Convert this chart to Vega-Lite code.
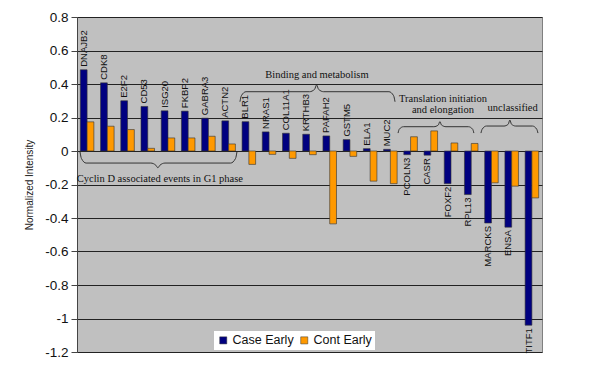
{
  "$schema": "https://vega.github.io/schema/vega-lite/v6.json",
  "width": 465,
  "height": 335,
  "autosize": {"type": "none"},
  "padding": {"left": 77, "top": 17, "right": 57, "bottom": 17},
  "background": "white",
  "config": {
    "view": {"fill": "#C0C0C0", "stroke": "#808080", "strokeWidth": 1},
    "font": "Liberation Sans"
  },
  "datasets": {
    "bars": [
      {"gene": "DNAJB2", "series": "Case Early", "value": 0.485},
      {"gene": "DNAJB2", "series": "Cont Early", "value": 0.174},
      {"gene": "CDK8", "series": "Case Early", "value": 0.407},
      {"gene": "CDK8", "series": "Cont Early", "value": 0.148},
      {"gene": "E2F2", "series": "Case Early", "value": 0.30},
      {"gene": "E2F2", "series": "Cont Early", "value": 0.128},
      {"gene": "CD53", "series": "Case Early", "value": 0.266},
      {"gene": "CD53", "series": "Cont Early", "value": 0.016},
      {"gene": "ISG20", "series": "Case Early", "value": 0.24},
      {"gene": "ISG20", "series": "Cont Early", "value": 0.078},
      {"gene": "FKBP2", "series": "Case Early", "value": 0.238},
      {"gene": "FKBP2", "series": "Cont Early", "value": 0.078},
      {"gene": "GABRA3", "series": "Case Early", "value": 0.196},
      {"gene": "GABRA3", "series": "Cont Early", "value": 0.088},
      {"gene": "ACTN2", "series": "Case Early", "value": 0.18},
      {"gene": "ACTN2", "series": "Cont Early", "value": 0.042},
      {"gene": "BLR1", "series": "Case Early", "value": 0.175},
      {"gene": "BLR1", "series": "Cont Early", "value": -0.08},
      {"gene": "NRAS1", "series": "Case Early", "value": 0.114},
      {"gene": "NRAS1", "series": "Cont Early", "value": -0.02},
      {"gene": "COL11A1", "series": "Case Early", "value": 0.106},
      {"gene": "COL11A1", "series": "Cont Early", "value": -0.044},
      {"gene": "KRTHB3", "series": "Case Early", "value": 0.10},
      {"gene": "KRTHB3", "series": "Cont Early", "value": -0.022},
      {"gene": "PAFAH2", "series": "Case Early", "value": 0.09},
      {"gene": "PAFAH2", "series": "Cont Early", "value": -0.435},
      {"gene": "GSTM5", "series": "Case Early", "value": 0.068},
      {"gene": "GSTM5", "series": "Cont Early", "value": -0.032},
      {"gene": "ELA1", "series": "Case Early", "value": 0.014},
      {"gene": "ELA1", "series": "Cont Early", "value": -0.18},
      {"gene": "MUC2", "series": "Case Early", "value": 0.01},
      {"gene": "MUC2", "series": "Cont Early", "value": -0.195},
      {"gene": "PCOLN3", "series": "Case Early", "value": -0.022},
      {"gene": "PCOLN3", "series": "Cont Early", "value": 0.085},
      {"gene": "CASR", "series": "Case Early", "value": -0.025},
      {"gene": "CASR", "series": "Cont Early", "value": 0.12},
      {"gene": "FOXF2", "series": "Case Early", "value": -0.195},
      {"gene": "FOXF2", "series": "Cont Early", "value": 0.048},
      {"gene": "RPL13", "series": "Case Early", "value": -0.26},
      {"gene": "RPL13", "series": "Cont Early", "value": 0.045},
      {"gene": "MARCKS", "series": "Case Early", "value": -0.43},
      {"gene": "MARCKS", "series": "Cont Early", "value": -0.19},
      {"gene": "ENSA", "series": "Case Early", "value": -0.455},
      {"gene": "ENSA", "series": "Cont Early", "value": -0.21},
      {"gene": "TITF1", "series": "Case Early", "value": -1.04},
      {"gene": "TITF1", "series": "Cont Early", "value": -0.28}
    ],
    "braces": [
      {"brace": "a", "pos": 0.15, "value": -0.006}, {"brace": "a", "pos": 0.22, "value": -0.045}, {"brace": "a", "pos": 0.45, "value": -0.072}, {"brace": "a", "pos": 3.65, "value": -0.072}, {"brace": "a", "pos": 3.9, "value": -0.085}, {"brace": "a", "pos": 4.0, "value": -0.10}, {"brace": "a", "pos": 4.1, "value": -0.085}, {"brace": "a", "pos": 4.35, "value": -0.072}, {"brace": "a", "pos": 7.6, "value": -0.072}, {"brace": "a", "pos": 7.84, "value": -0.045}, {"brace": "a", "pos": 7.91, "value": -0.006},
      {"brace": "b", "pos": 8.06, "value": 0.294}, {"brace": "b", "pos": 8.13, "value": 0.33}, {"brace": "b", "pos": 8.36, "value": 0.354}, {"brace": "b", "pos": 11.5, "value": 0.354}, {"brace": "b", "pos": 11.75, "value": 0.368}, {"brace": "b", "pos": 11.85, "value": 0.394}, {"brace": "b", "pos": 11.95, "value": 0.368}, {"brace": "b", "pos": 12.2, "value": 0.354}, {"brace": "b", "pos": 15.43, "value": 0.354}, {"brace": "b", "pos": 15.66, "value": 0.33}, {"brace": "b", "pos": 15.73, "value": 0.294},
      {"brace": "c", "pos": 15.88, "value": 0.107}, {"brace": "c", "pos": 15.94, "value": 0.13}, {"brace": "c", "pos": 16.15, "value": 0.145}, {"brace": "c", "pos": 17.65, "value": 0.145}, {"brace": "c", "pos": 17.87, "value": 0.155}, {"brace": "c", "pos": 17.95, "value": 0.175}, {"brace": "c", "pos": 18.03, "value": 0.155}, {"brace": "c", "pos": 18.25, "value": 0.145}, {"brace": "c", "pos": 19.36, "value": 0.145}, {"brace": "c", "pos": 19.57, "value": 0.13}, {"brace": "c", "pos": 19.63, "value": 0.107},
      {"brace": "d", "pos": 19.98, "value": 0.107}, {"brace": "d", "pos": 20.04, "value": 0.13}, {"brace": "d", "pos": 20.25, "value": 0.149}, {"brace": "d", "pos": 21.12, "value": 0.149}, {"brace": "d", "pos": 21.33, "value": 0.16}, {"brace": "d", "pos": 21.41, "value": 0.185}, {"brace": "d", "pos": 21.49, "value": 0.16}, {"brace": "d", "pos": 21.7, "value": 0.149}, {"brace": "d", "pos": 22.53, "value": 0.149}, {"brace": "d", "pos": 22.74, "value": 0.13}, {"brace": "d", "pos": 22.8, "value": 0.107}
    ],
    "notes": [
      {"label": "Cyclin D associated events in G1 phase", "pos": 4.1, "value": -0.183},
      {"label": "Binding and metabolism", "pos": 11.87, "value": 0.434},
      {"label": "Translation initiation", "pos": 18.1, "value": 0.293},
      {"label": "and elongation", "pos": 18.1, "value": 0.227},
      {"label": "unclassified", "pos": 21.55, "value": 0.239}
    ]
  },
  "encoding": {
    "y": {"field": "value", "type": "quantitative",
          "scale": {"domain": [-1.2, 0.8], "nice": false, "zero": false},
          "axis": {"values": [-1.2, -1, -0.8, -0.6, -0.4, -0.2, 0, 0.2, 0.4, 0.6, 0.8],
                   "labelExpr": "'' + datum.value", "labelOverlap": false,
                   "title": "Normalized Intensity", "titleFontSize": 10, "titleFontWeight": "normal",
                   "titleColor": "#222", "titlePadding": 10, "titleFont": "Liberation Sans",
                   "labelFontSize": 13.5, "labelColor": "#111", "labelFont": "Liberation Sans", "labelPadding": 3,
                   "tickSize": 6, "tickColor": "#444", "domainColor": "#444",
                   "grid": true, "gridColor": "#222", "gridWidth": 1}}
  },
  "layer": [
    {
      "data": {"name": "bars"},
      "encoding": {
        "x": {"field": "gene", "type": "nominal", "sort": null, "axis": null,
              "scale": {"paddingInner": 0.33, "paddingOuter": 0.165}},
        "xOffset": {"field": "series", "type": "nominal", "scale": {"domain": ["Case Early", "Cont Early"]}}
      },
      "layer": [
        {
          "mark": {"type": "bar", "stroke": "#333", "strokeWidth": 0.6},
          "encoding": {
            "color": {"field": "series", "type": "nominal",
                      "scale": {"domain": ["Case Early", "Cont Early"], "range": ["#000080", "#FF9900"]},
                      "legend": {"orient": "none", "legendX": 137, "legendY": 314, "direction": "horizontal",
                                 "title": null, "fillColor": "white", "padding": 3, "symbolType": "square",
                                 "symbolSize": 50, "symbolStrokeColor": "#333", "symbolStrokeWidth": 0.5,
                                 "labelFontSize": 12.5, "labelFont": "Liberation Sans", "labelColor": "#111",
                                 "columnPadding": 4, "labelOffset": 3}}
          }
        },
        {
          "transform": [{"filter": "datum.series == 'Case Early' && datum.value >= 0"}],
          "mark": {"type": "text", "angle": 270, "align": "left", "baseline": "middle", "dx": 3,
                   "fontSize": 9.5, "color": "#111", "font": "Liberation Sans"},
          "encoding": {"text": {"field": "gene"}}
        },
        {
          "transform": [{"filter": "datum.series == 'Case Early' && datum.value < 0"}],
          "mark": {"type": "text", "angle": 270, "align": "right", "baseline": "middle", "dx": -3,
                   "fontSize": 9.5, "color": "#111", "font": "Liberation Sans"},
          "encoding": {"text": {"field": "gene"}}
        }
      ]
    },
    {
      "layer": [
        {
          "data": {"name": "braces"},
          "mark": {"type": "line", "interpolate": "monotone", "color": "#333", "strokeWidth": 1},
          "encoding": {
            "x": {"field": "pos", "type": "quantitative", "axis": null, "scale": {"domain": [0, 23], "nice": false, "zero": false}},
            "detail": {"field": "brace"}
          }
        },
        {
          "data": {"name": "notes"},
          "mark": {"type": "text", "align": "center", "baseline": "alphabetic", "font": "Liberation Serif", "fontSize": 10.5, "color": "#111"},
          "encoding": {
            "x": {"field": "pos", "type": "quantitative", "axis": null, "scale": {"domain": [0, 23], "nice": false, "zero": false}},
            "text": {"field": "label"}
          }
        }
      ]
    }
  ],
  "resolve": {"scale": {"x": "independent"}}
}
